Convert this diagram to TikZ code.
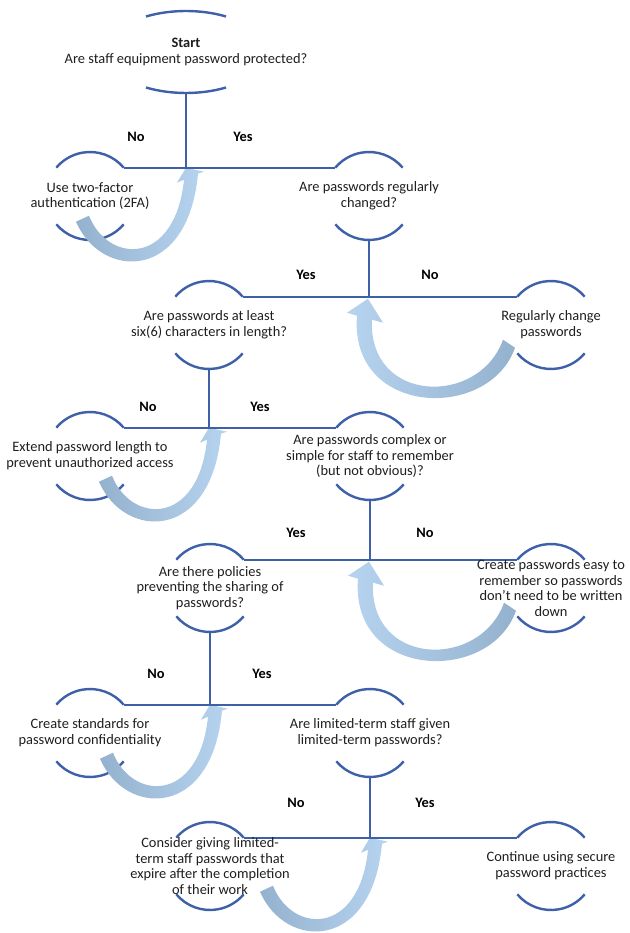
\documentclass[tikz,border=0pt]{standalone}
\usepackage{fontspec}
\setmainfont{Carlito}
\usepackage{xcolor}
\definecolor{flowblue}{RGB}{61,96,168}
\definecolor{arrowlight}{RGB}{182,212,240}
\definecolor{arrowdark}{RGB}{148,178,206}
\definecolor{txtgray}{RGB}{30,30,30}
\usepackage{tikz}
\usetikzlibrary{positioning, calc, shapes.geometric, backgrounds}

\tikzset{
  qtext/.style={font=\fontsize{14.4}{15.7}\selectfont, align=center, text=txtgray, inner sep=0pt},
  ring/.style={circle, minimum size=88pt, inner sep=0pt, outer sep=0pt,
    label={[qtext]center:{#1}}},
  ln/.style={draw=flowblue, line width=2.4pt},
  ans/.style={font=\fontsize{14.4}{15.7}\selectfont\bfseries, text=black},
  % curved "No" arrows, head at the junction
  loopleft/.pic={
    \shade[left color=arrowdark, right color=arrowlight]
      (-110,-54) .. controls (-85,-112) and (2,-115) .. (12,-6) -- (18,-4) -- (0,0) -- (-9,-15) -- (-2,-12)
      .. controls (-11,-99) and (-78,-96) .. (-97,-48) -- cycle;
  },
  loopright/.pic={
    \shade[left color=arrowlight, right color=arrowdark]
      (146,-51) .. controls (120,-125) and (-20,-120) .. (-12,-19) -- (-22,-16) -- (-1,-2) -- (14,-26) -- (3,-23)
      .. controls (-1,-107) and (110,-110) .. (134,-43) -- cycle;
  },
}

\begin{document}
\begin{tikzpicture}[x=1pt, y=1pt]
  \useasboundingbox (0,0) rectangle (629,-933);

  % Question and action nodes
  \node[ellipse, minimum width=160pt, minimum height=82pt, inner sep=0pt,
        label={[qtext]center:{\textbf{Start}\\Are staff equipment password protected?}}] (start) at (186,-52) {};
  \node[ring={Use two-factor\\authentication (2FA)}] (twofa) at (90,-196) {};
  \node[ring={Are passwords regularly\\changed?}] (changed) at (369,-196) {};
  \node[ring={Are passwords at least\\six(6) characters in length?}] (sixchar) at (209,-325) {};
  \node[ring={Regularly change\\passwords}] (regchange) at (551,-325) {};
  \node[ring={Extend password length to\\prevent unauthorized access}] (extend) at (90,-456) {};
  \node[ring={Are passwords complex or\\simple for staff to remember\\(but not obvious)?}] (complex) at (370,-456) {};
  \node[ring={Are there policies\\preventing the sharing of\\passwords?}] (policy) at (210,-588) {};
  \node[ring={Create passwords easy to\\remember so passwords\\don't need to be written\\down}] (easy) at (551,-588) {};
  \node[ring={Create standards for\\password confidentiality}] (confid) at (90,-733) {};
  \node[ring={Are limited-term staff given\\limited-term passwords?}] (limited) at (370,-733) {};
  \node[ring={Consider giving limited-\\term staff passwords that\\expire after the completion\\of their work}] (expire) at (210,-866) {};
  \node[ring={Continue using secure\\password practices}] (cont) at (551,-866) {};

  % Junctions
  \coordinate (j1) at (start.south |- twofa.40);
  \coordinate (j2) at (changed.south |- sixchar.40);
  \coordinate (j3) at (sixchar.south |- extend.40);
  \coordinate (j4) at (complex.south |- policy.40);
  \coordinate (j5) at (policy.south |- confid.40);
  \coordinate (j6) at (limited.south |- expire.40);

  \begin{scope}[on background layer]
    % Arcs round the texts
    \draw[ln] ($(start.center)+(40,35.5)$) arc (60:120:80pt and 41pt);
    \draw[ln] ($(start.center)+(-40,-35.5)$) arc (240:300:80pt and 41pt);
    \foreach \n in {twofa,changed,sixchar,regchange,extend,complex,policy,easy,confid,limited,expire,cont}{
      \draw[ln] (\n.40) arc (40:140:44pt);
      \draw[ln] (\n.220) arc (220:320:44pt);
    }

    % Curved arrows back to the junctions
    \pic at (j1) {loopleft};
    \pic at (j2) {loopright};
    \pic at (j3) {loopleft};
    \pic at (j4) {loopright};
    \pic at (j5) {loopleft};
    \pic at (j6) {loopleft};

    % Stems and branches
    \draw[ln] (start.south) -- (j1);
    \draw[ln] (twofa.40) -- (changed.140);
    \draw[ln] (changed.south) -- (j2);
    \draw[ln] (sixchar.40) -- (regchange.140);
    \draw[ln] (sixchar.south) -- (j3);
    \draw[ln] (extend.40) -- (complex.140);
    \draw[ln] (complex.south) -- (j4);
    \draw[ln] (policy.40) -- (easy.140);
    \draw[ln] (policy.south) -- (j5);
    \draw[ln] (confid.40) -- (limited.140);
    \draw[ln] (limited.south) -- (j6);
    \draw[ln] (expire.40) -- (cont.140);
  \end{scope}

  % Answers
  \node[ans] (no1) at (136,-137) {No};
  \node[ans] (yes1) at (243,-137) {Yes};
  \node[ans] (yes2) at (306,-275) {Yes};
  \node[ans] (no2) at (430,-275) {No};
  \node[ans] (no3) at (148,-407) {No};
  \node[ans] (yes3) at (260,-407) {Yes};
  \node[ans] (yes4) at (296,-533) {Yes};
  \node[ans] (no4) at (425,-533) {No};
  \node[ans] (no5) at (156,-674) {No};
  \node[ans] (yes5) at (262,-674) {Yes};
  \node[ans] (no6) at (296,-803) {No};
  \node[ans] (yes6) at (425,-803) {Yes};
\end{tikzpicture}
\end{document}
